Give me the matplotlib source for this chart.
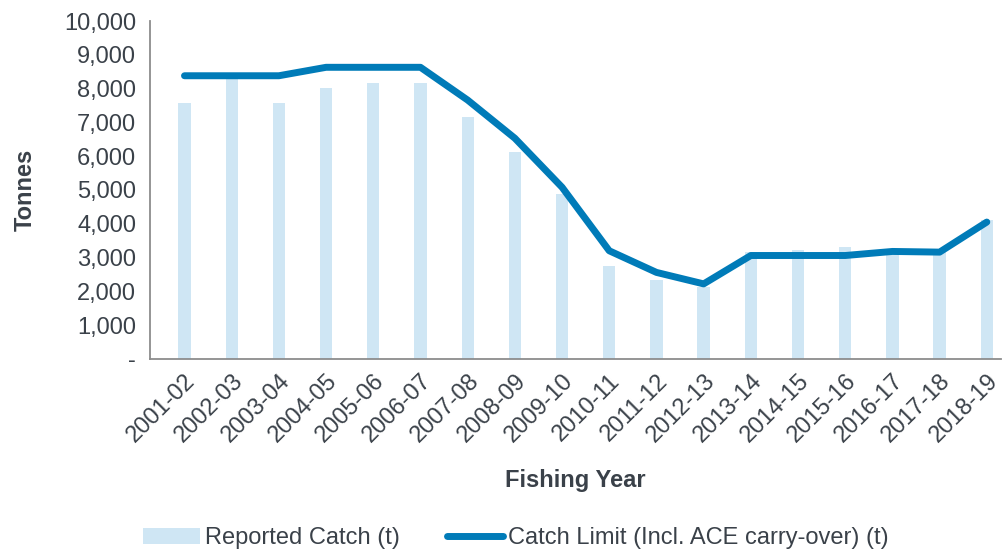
import matplotlib
matplotlib.use("Agg")
import matplotlib.pyplot as plt
import numpy as np

plt.rcParams['font.family'] = ['Liberation Sans', 'DejaVu Sans']

years = ["2001-02", "2002-03", "2003-04", "2004-05", "2005-06", "2006-07",
         "2007-08", "2008-09", "2009-10", "2010-11", "2011-12", "2012-13",
         "2013-14", "2014-15", "2015-16", "2016-17", "2017-18", "2018-19"]
catch = [7580, 8300, 7560, 8010, 8170, 8170, 7150, 6130, 4870,
         2750, 2340, 2120, 3150, 3230, 3320, 3150, 3200, 4100]
limit = [8380, 8380, 8380, 8630, 8630, 8630, 7660, 6530, 5080,
         3200, 2560, 2220, 3060, 3060, 3060, 3180, 3160, 4050]

text_col = "#3a4149"
bar_col = "#cfe6f4"
line_col = "#007bb8"

fig = plt.figure(figsize=(10.07, 5.53), dpi=100)
ax = fig.add_axes([0.149, 0.351, 0.845, 0.611])

x = np.arange(len(years))
bars = ax.bar(x, catch, width=0.26, color=bar_col, label="Reported Catch (t)", zorder=1)
line, = ax.plot(x, limit, color=line_col, lw=5, solid_capstyle="round",
                solid_joinstyle="round", label="Catch Limit (Incl. ACE carry-over) (t)", zorder=2)

ax.set_ylim(0, 10000)
ax.set_xlim(-0.73, 17.3)
ax.set_yticks(range(0, 10001, 1000))
ax.set_yticklabels(["-"] + [f"{v:,}" for v in range(1000, 10001, 1000)])
ax.set_xticks(x)
ax.set_xticklabels(years, rotation=45, ha="right", rotation_mode="anchor")
ax.tick_params(axis="both", length=0, labelsize=17, colors=text_col, pad=10)
ax.tick_params(axis="x", pad=8)

for s in ["top", "right"]:
    ax.spines[s].set_visible(False)
for s in ["left", "bottom"]:
    ax.spines[s].set_color("#8c8c8c")
    ax.spines[s].set_linewidth(1.3)

ax.set_ylabel("Tonnes", fontsize=17, fontweight="bold", color=text_col, labelpad=20)
ax.set_xlabel("Fishing Year", fontsize=17, fontweight="bold", color=text_col, labelpad=16)

leg = ax.legend([bars, line], [bars.get_label(), line.get_label()],
                loc="upper center", bbox_to_anchor=(0.43, -0.435), ncol=2, frameon=False,
                fontsize=17, handlelength=2.4, handletextpad=0.2, columnspacing=2.0)
for t in leg.get_texts():
    t.set_color(text_col)

fig.savefig("out.png", dpi=100)
